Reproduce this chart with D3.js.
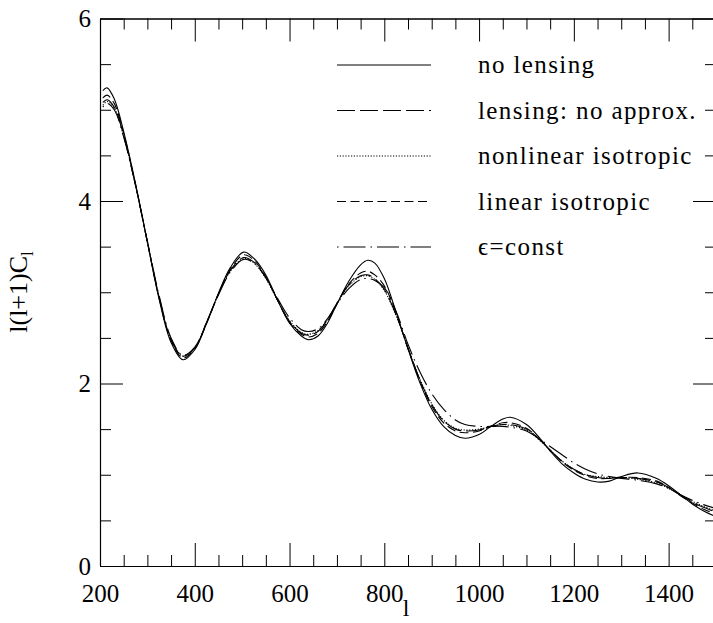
<!DOCTYPE html>
<html><head><meta charset="utf-8">
<script src="https://cdn.jsdelivr.net/npm/d3@7"></script>
<style>
html,body{margin:0;padding:0;background:#fff;}
svg{display:block;}
text{font-family:"Liberation Serif","DejaVu Serif",serif;fill:#000;}
</style></head>
<body>
<script>
// ---- data ----
const ell = [206,215,230,250,275,300,325,350,375,400,
  425,450,475,503,525,550,575,600,625,640,
  660,680,700,725,750,765,780,800,825,850,
  875,900,925,950,970,1000,1025,1050,1066,1100,
  1125,1150,1175,1200,1225,1250,1275,1300,1335,1375,
  1400,1425,1450,1475,1500];
const noLensing = [5.21,5.24,5.12,4.76,4.19,3.55,2.92,2.45,2.26,2.37,
  2.66,2.99,3.27,3.44,3.37,3.19,2.91,2.66,2.52,2.48,
  2.52,2.66,2.87,3.12,3.30,3.35,3.32,3.15,2.78,2.38,
  2.01,1.72,1.53,1.43,1.40,1.44,1.53,1.61,1.63,1.55,
  1.42,1.26,1.12,1.02,0.95,0.92,0.93,0.98,1.02,0.96,
  0.88,0.78,0.68,0.60,0.54];
const lensNoApprox = [5.08,5.11,5.03,4.72,4.17,3.55,2.94,2.48,2.30,2.39,
  2.67,2.98,3.24,3.38,3.33,3.16,2.91,2.68,2.55,2.53,
  2.57,2.70,2.88,3.08,3.18,3.19,3.15,3.03,2.75,2.39,
  2.04,1.77,1.59,1.50,1.48,1.49,1.53,1.55,1.55,1.50,
  1.40,1.27,1.15,1.06,1.00,0.97,0.96,0.97,0.96,0.92,
  0.86,0.78,0.70,0.64,0.59];
const nonlinIso = [5.05,5.09,5.02,4.71,4.17,3.55,2.94,2.48,2.30,2.39,
  2.67,2.98,3.23,3.37,3.32,3.15,2.91,2.69,2.56,2.54,
  2.58,2.70,2.88,3.07,3.17,3.18,3.14,3.02,2.74,2.39,
  2.05,1.78,1.60,1.51,1.49,1.50,1.53,1.55,1.54,1.49,
  1.39,1.27,1.15,1.06,1.00,0.98,0.97,0.97,0.95,0.91,
  0.85,0.78,0.71,0.65,0.60];
const linIso = [5.13,5.16,5.07,4.74,4.18,3.55,2.93,2.47,2.28,2.38,
  2.66,2.98,3.25,3.41,3.35,3.17,2.91,2.67,2.54,2.51,
  2.55,2.68,2.87,3.09,3.21,3.23,3.19,3.07,2.77,2.38,
  2.03,1.75,1.57,1.48,1.46,1.48,1.53,1.57,1.57,1.51,
  1.40,1.27,1.14,1.05,0.99,0.96,0.96,0.97,0.97,0.93,
  0.86,0.77,0.69,0.62,0.57];
const epsConst = [5.03,5.07,5.00,4.70,4.17,3.56,2.96,2.50,2.31,2.40,
  2.67,2.97,3.22,3.36,3.32,3.16,2.93,2.72,2.59,2.57,
  2.60,2.71,2.87,3.04,3.14,3.15,3.13,3.05,2.79,2.43,
  2.13,1.89,1.72,1.60,1.55,1.53,1.53,1.53,1.52,1.48,
  1.40,1.31,1.22,1.13,1.06,1.01,0.98,0.96,0.94,0.90,
  0.85,0.78,0.72,0.67,0.63];

const seriesNames = ["no lensing","lensing: no approx.","nonlinear isotropic","linear isotropic","\u03f5=const"];
const seriesData = [noLensing, lensNoApprox, nonlinIso, linIso, epsConst];
const dashes = [null, "18,5", "1.2,1.6", "9,4.5", "1.5,5,22,5"];

const xMajor = [200,400,600,800,1000,1200,1400];
const yMajor = [0,2,4,6];

// ---- layout ----
const W = 713, H = 623;
const x0 = 100, x1 = 716, y0 = 566, y1 = 18.5;
const svg = d3.select("body").append("svg").attr("width", W).attr("height", H);

const x = d3.scaleLinear().domain([200,1500]).range([x0,x1]);
const y = d3.scaleLinear().domain([0,6]).range([y0,y1]);

const xMinor = d3.range(200,1501,50).filter(v => v % 200 !== 0);
const yMinor = d3.range(0,6.01,0.5).filter(v => v % 2 !== 0);

const MAJ = 23, MIN = 11;
function styleAxis(g){
  g.select(".domain").attr("stroke","#000").attr("stroke-width",1.1);
  g.selectAll(".tick line").attr("stroke","#000").attr("stroke-width",1);
  g.selectAll("text").style("font-family",'"Liberation Serif",serif').style("font-size","25px").attr("fill","#000");
}
// bottom
svg.append("g").attr("transform",`translate(0,${y0})`)
  .call(d3.axisBottom(x).tickValues(xMajor).tickFormat(d3.format("d")).tickSizeInner(-MAJ).tickSizeOuter(0).tickPadding(18))
  .call(styleAxis);
svg.append("g").attr("transform",`translate(0,${y0})`)
  .call(d3.axisBottom(x).tickValues(xMinor).tickFormat("").tickSizeInner(-MIN).tickSizeOuter(0))
  .call(styleAxis);
// top
svg.append("g").attr("transform",`translate(0,${y1})`)
  .call(d3.axisTop(x).tickValues(xMajor).tickFormat("").tickSizeInner(-MAJ).tickSizeOuter(0))
  .call(styleAxis);
svg.append("g").attr("transform",`translate(0,${y1})`)
  .call(d3.axisTop(x).tickValues(xMinor).tickFormat("").tickSizeInner(-MIN).tickSizeOuter(0))
  .call(styleAxis);
// left
svg.append("g").attr("transform",`translate(${x0},0)`)
  .call(d3.axisLeft(y).tickValues(yMajor).tickFormat(d3.format("d")).tickSizeInner(-MAJ).tickSizeOuter(0).tickPadding(9))
  .call(styleAxis);
svg.append("g").attr("transform",`translate(${x0},0)`)
  .call(d3.axisLeft(y).tickValues(yMinor).tickFormat("").tickSizeInner(-MIN).tickSizeOuter(0))
  .call(styleAxis);
// right
svg.append("g").attr("transform",`translate(${x1},0)`)
  .call(d3.axisRight(y).tickValues(yMajor).tickFormat("").tickSizeInner(-MAJ).tickSizeOuter(0))
  .call(styleAxis);
svg.append("g").attr("transform",`translate(${x1},0)`)
  .call(d3.axisRight(y).tickValues(yMinor).tickFormat("").tickSizeInner(-MIN).tickSizeOuter(0))
  .call(styleAxis);

// axis titles
svg.append("text").attr("x", 406).attr("y", 616).attr("text-anchor","middle")
  .style("font-size","24px").text("l");
const yl = svg.append("text").attr("transform","translate(27,292) rotate(-90)")
  .attr("text-anchor","middle").style("font-size","26px");
yl.append("tspan").text("l(l+1)C");
yl.append("tspan").attr("dy", 6).style("font-size","17px").text("l");

// curves
svg.append("clipPath").attr("id","clip").append("rect")
  .attr("x",x0).attr("y",y1).attr("width",x1-x0).attr("height",y0-y1);
const line = d3.line().x((d,i)=>x(ell[i])).y(d=>y(d)).curve(d3.curveCatmullRom.alpha(0.5));
const gc = svg.append("g").attr("clip-path","url(#clip)");
seriesData.forEach((s,k)=>{
  gc.append("path").datum(s).attr("d",line).attr("fill","none")
    .attr("stroke","#000").attr("stroke-width",1.1)
    .attr("stroke-dasharray",dashes[k]);
});

// legend
const legY = [65,110.5,156,201.5,247];
seriesNames.forEach((n,k)=>{
  svg.append("line").attr("x1",337).attr("x2",431).attr("y1",legY[k]).attr("y2",legY[k])
    .attr("stroke","#000").attr("stroke-width",1.1).attr("stroke-dasharray",dashes[k]);
  svg.append("text").attr("x",478).attr("y",legY[k]+8)
    .style("font-size","25px").style("letter-spacing","1.4px").text(n);
});
</script>
</body></html>
